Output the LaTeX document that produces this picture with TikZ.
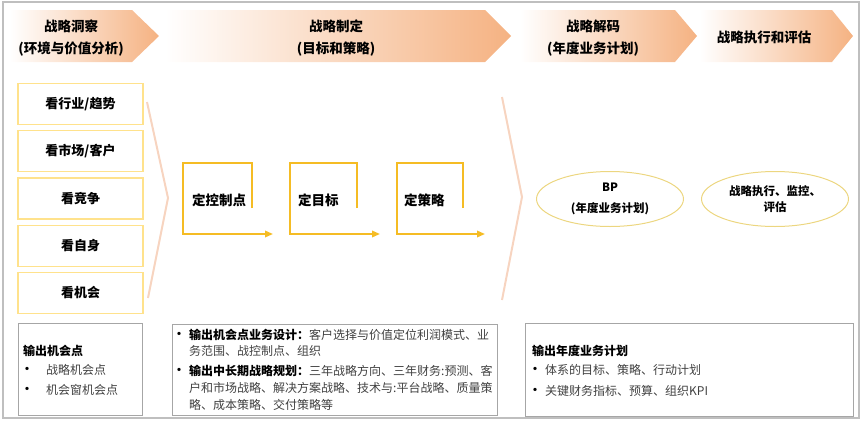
\documentclass[tikz,border=0pt]{standalone}
\usepackage{fontspec}
\setmainfont{Noto Sans CJK SC}
\usetikzlibrary{positioning,arrows.meta,shapes.geometric}
\definecolor{framegray}{RGB}{191,191,191}
\definecolor{peach}{RGB}{245,178,130}
\definecolor{faintpeach}{RGB}{247,212,192}
\definecolor{lookyellow}{RGB}{255,226,140}
\definecolor{stepgold}{RGB}{245,188,36}
\definecolor{ovalgold}{RGB}{236,214,128}
\definecolor{boxgray}{RGB}{166,166,166}
\definecolor{textgray}{RGB}{64,64,64}
\begin{document}
\begin{tikzpicture}[x=1pt,y=-1pt,
    head/.style={align=center,font=\fontsize{13.5}{22}\selectfont\bfseries},
    lookbox/.style={draw=lookyellow,line width=1.2pt,minimum width=125pt,minimum height=41pt,font=\fontsize{13}{15}\selectfont\bfseries},
    steplabel/.style={anchor=west,font=\fontsize{13.5}{15}\selectfont\bfseries},
    bracket/.style={draw=stepgold,line width=1.8pt,-{Triangle[length=8pt,width=6.5pt]}},
    plan/.style={ellipse,draw=ovalgold,line width=1pt,minimum width=147pt,minimum height=55pt,align=center,font=\fontsize{11.5}{16}\selectfont\bfseries},
    outbox/.style={draw=boxgray,line width=1pt},
    outhead/.style={anchor=west,font=\fontsize{12}{14}\selectfont\bfseries},
    outtext/.style={anchor=west,text=textgray,font=\fontsize{12}{14}\selectfont},
    dot/.style={text=black,font=\fontsize{12}{12}\selectfont\bfseries},
    faint/.style={draw=faintpeach,line width=2pt}]
    \tikzstyle{every node}+=[inner sep=0pt]
    \useasboundingbox (0,0) rectangle (865,426);
    \draw [framegray, line width=1.5pt] (3,2) rectangle (859,418);
    \shade [left color=white, right color=peach] (10,10) -- (132,10) -- (159,36) -- (132,62) -- (10,62) -- cycle;
    \shade [left color=white, right color=peach] (165,10) -- (485,10) -- (511,36) -- (485,62) -- (165,62) -- cycle;
    \shade [left color=white, right color=peach] (520,10) -- (675,10) -- (697,36) -- (675,62) -- (520,62) -- cycle;
    \shade [left color=white, right color=peach] (700,10) -- (832,10) -- (853,36) -- (832,62) -- (700,62) -- cycle;
    \node [head] (insight) at (71,38) {战略洞察\\(环境与价值分析)};
    \node [head] (formulate) at (336,38) {战略制定\\(目标和策略)};
    \node [head] (decode) at (593,38) {战略解码\\(年度业务计划)};
    \node [head] (execute) at (764,37) {战略执行和评估};
    \node [lookbox] (industry) at (80.5,104) {看行业/趋势};
    \node [lookbox, below=5pt of industry] (market) {看市场/客户};
    \node [lookbox, below=5pt of market] (rivals) {看竞争};
    \node [lookbox, below=5pt of rivals] (self) {看自身};
    \node [lookbox, below=5pt of self] (chance) {看机会};
    \draw [faint] (147,102) -- (168,198) -- (148,298);
    \draw [faint] (502,97) -- (522,197) -- (502,300);
    \node [steplabel] (control) at (192,200) {定控制点};
    \node [steplabel] (target) at (298,200) {定目标};
    \node [steplabel] (tactic) at (404,200) {定策略};
    \draw [bracket] (252,208) |- (183,163) |- (273,234);
    \draw [bracket] (357,208) |- (290,163) |- (380,234);
    \draw [bracket] (463,208) |- (397,163) |- (485,234);
    \node [plan] (bp) at (610,199) {BP\\[5pt](年度业务计划)};
    \node [plan] (monitor) at (775,199) {战略执行、监控、\\评估};
    \node [outbox, minimum width=124pt, minimum height=92pt] (chanceout) at (80,369.5) {};
    \node [outhead] (chancehead) at (23,351) {输出机会点};
    \node [dot] (chancedota) at (27,370) {•};
    \node [outtext] (chancea) at (46,370) {战略机会点};
    \node [dot] (chancedotb) at (27,390) {•};
    \node [outtext] (chanceb) at (46,390) {机会窗机会点};
    \node [outbox, minimum width=325pt, minimum height=91pt] (planout) at (334.5,369.5) {};
    \node [dot] (plandota) at (179,335) {•};
    \node [outtext] (planaa) at (189,335) {\textcolor{black}{\bfseries 输出机会点业务设计：}客户选择与价值定位利润模式、业};
    \node [outtext] (planab) at (189,351) {务范围、战控制点、组织};
    \node [dot] (plandotb) at (179,371) {•};
    \node [outtext] (planba) at (189,371) {\textcolor{black}{\bfseries 输出中长期战略规划：}三年战略方向、三年财务:预测、客};
    \node [outtext] (planbb) at (189,388) {户和市场战略、解决方案战略、技术与:平台战略、质量策};
    \node [outtext] (planbc) at (189,405) {略、成本策略、交付策略等};
    \node [outbox, minimum width=328pt, minimum height=93pt] (yearout) at (689,369.5) {};
    \node [outhead] (yearhead) at (532,351) {输出年度业务计划};
    \node [dot] (yeardota) at (535,370) {•};
    \node [outtext] (yeara) at (545,370) {体系的目标、策略、行动计划};
    \node [dot] (yeardotb) at (535,391) {•};
    \node [outtext] (yearb) at (545,391) {关键财务指标、预算、组织KPI};
\end{tikzpicture}
\end{document}
